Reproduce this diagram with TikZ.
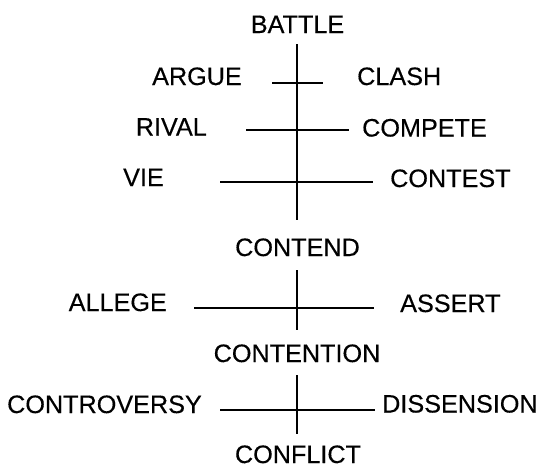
\documentclass[tikz,border=0pt]{standalone}
\usepackage{fontspec}
\setmainfont{Liberation Sans}[FakeBold=0.35]
\begin{document}
\begin{tikzpicture}[x=1pt,y=-1pt,
  word/.style={inner sep=0pt,font=\fontsize{25.2}{30}\selectfont},
  mid/.style={word,anchor=base},
  lft/.style={word,anchor=base east},
  rgt/.style={word,anchor=base west},
  stroke/.style={line width=2pt,line cap=butt}]
\useasboundingbox (0,0) rectangle (540,467);
% words
\node[mid] (battle) at (297.5,33) {BATTLE};
\node[lft] (argue) at (242,85) {ARGUE};
\node[rgt] (clash) at (357,85) {CLASH};
\node[lft] (rival) at (207,135.5) {RIVAL};
\node[rgt] (compete) at (362,136.5) {COMPETE};
\node[lft] (vie) at (164,186) {VIE};
\node[rgt] (contest) at (390,187) {CONTEST};
\node[mid] (contend) at (297.5,256) {CONTEND};
\node[lft] (allege) at (167,311) {ALLEGE};
\node[rgt] (assert) at (400,312) {ASSERT};
\node[mid] (contention) at (297,362) {CONTENTION};
\node[lft] (controversy) at (202,413) {CONTROVERSY};
\node[rgt] (dissension) at (382,412.5) {DISSENSION};
\node[mid] (conflict) at (298,463) {CONFLICT};
% line end points
\coordinate (v1a) at (297,44);
\coordinate (v1b) at (297,220);
\coordinate (v2a) at (297,270);
\coordinate (v2b) at (297,330);
\coordinate (v3a) at (297,375);
\coordinate (v3b) at (297,434);
\coordinate (h1a) at (272,83);
\coordinate (h1b) at (323,83);
\coordinate (h2a) at (246,130);
\coordinate (h2b) at (349,130);
\coordinate (h3a) at (220,181.5);
\coordinate (h3b) at (373,181.5);
\coordinate (h4a) at (194,308);
\coordinate (h4b) at (374,308);
\coordinate (h5a) at (220,410);
\coordinate (h5b) at (375,410);
% connectors
\draw[stroke] (v1a) -- (v1b);
\draw[stroke] (v2a) -- (v2b);
\draw[stroke] (v3a) -- (v3b);
\draw[stroke] (h1a) -- (h1b);
\draw[stroke] (h2a) -- (h2b);
\draw[stroke] (h3a) -- (h3b);
\draw[stroke] (h4a) -- (h4b);
\draw[stroke] (h5a) -- (h5b);
\end{tikzpicture}
\end{document}
